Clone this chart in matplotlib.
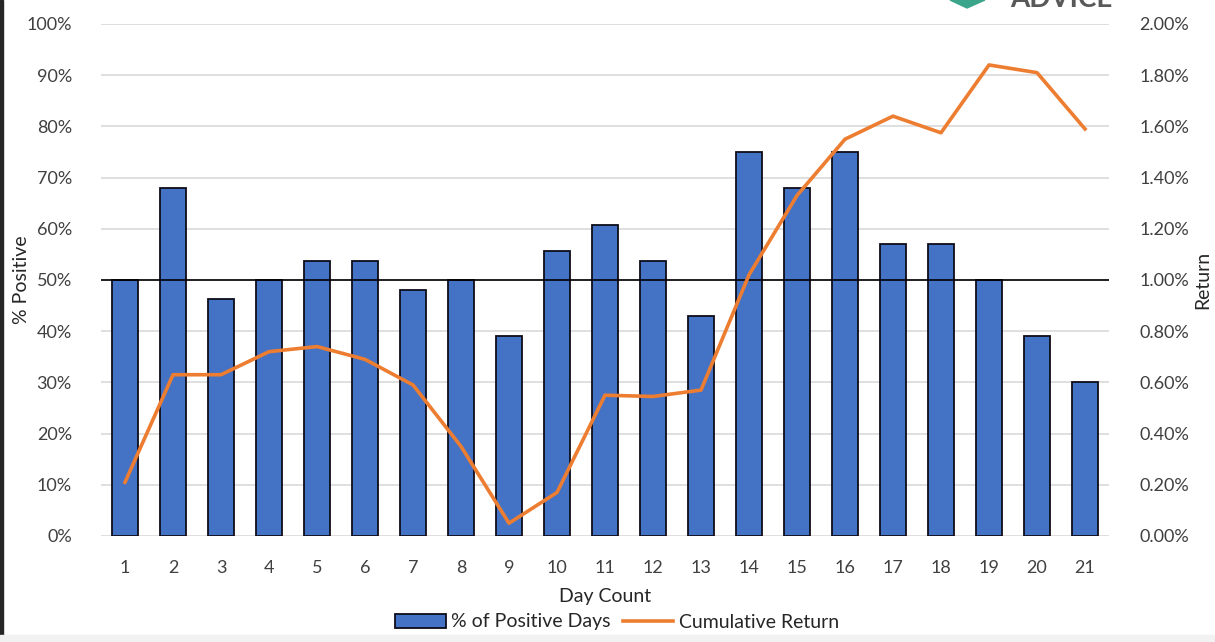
import numpy as np
import matplotlib
matplotlib.use('Agg')
import matplotlib.pyplot as plt
from matplotlib.ticker import FuncFormatter

plt.rcParams['font.family'] = ['Lato', 'DejaVu Sans']

# dados
days = list(range(1, 22))
pct_positive = [50, 68, 46.2, 50, 53.8, 53.8, 48.1, 50, 39.1, 55.6, 60.7,
                53.8, 42.9, 75, 68, 75, 57.1, 57.1, 50, 39.1, 30]
cum_return = [0.21, 0.63, 0.63, 0.72, 0.74, 0.69, 0.59, 0.35, 0.05, 0.17, 0.55,
              0.545, 0.57, 1.02, 1.33, 1.55, 1.64, 1.575, 1.84, 1.81, 1.59]

fig = plt.figure(figsize=(12.15, 6.42), dpi=100)
ax = fig.add_axes([101 / 1215, 1 - 536 / 642, 1008 / 1215, 512 / 642])
ax2 = ax.twinx()

grid_c = '#d9d9d9'
for v in range(0, 101, 10):
    ax.axhline(v, color=grid_c, lw=1.2, zorder=0)

ax.bar(days, pct_positive, width=0.56, color='#4472c4', edgecolor='#0d0d1a',
       linewidth=1.3, zorder=2, label='% of Positive Days')
ax.axhline(50, color='black', lw=1.2, zorder=3)

ax2.plot(days, cum_return, color='#ed7d31', lw=2.6, zorder=4, label='Cumulative Return')

ax.set_xlim(0.5, 21.5)
ax.set_ylim(0, 100)
ax2.set_ylim(0, 2.0)

ax.set_yticks(range(0, 101, 10))
ax.yaxis.set_major_formatter(FuncFormatter(lambda v, p: f'{v:.0f}%'))
ax2.set_yticks(np.arange(0, 2.01, 0.2))
ax2.yaxis.set_major_formatter(FuncFormatter(lambda v, p: f'{v:.2f}%'))
ax.set_xticks(days)

for a in (ax, ax2):
    for s in a.spines.values():
        s.set_visible(False)
    a.tick_params(length=0, labelsize=13, colors='#404040')
ax.tick_params(axis='y', pad=21)
ax2.tick_params(axis='y', pad=22)
ax.tick_params(axis='x', pad=17)

ax.set_xlabel('Day Count', fontsize=14, color='#262626')
ax.set_ylabel('% Positive', fontsize=14, color='#262626')
ax2.set_ylabel('Return', fontsize=14, color='#262626')
ax.xaxis.set_label_coords(0.5, -0.119)
ax.yaxis.set_label_coords(-0.079, 0.5)
ax2.yaxis.set_label_coords(1.093, 0.5)
ax.xaxis.label.set_va('center')
ax.yaxis.label.set_va('center')
ax2.yaxis.label.set_va('center')

h1, l1 = ax.get_legend_handles_labels()
h2, l2 = ax2.get_legend_handles_labels()
fig.legend(h1 + h2, l1 + l2, loc='center', bbox_to_anchor=(617 / 1215, 1 - 622 / 642),
           ncol=2, frameon=False, fontsize=14, handlelength=2.6, handletextpad=0.3,
           columnspacing=0.6, labelcolor='#262626')

# logo cortado no topo
fig.text(1010 / 1215, 1 + 1 / 642, 'ADVICE', fontsize=20, color='#595959',
         fontweight='bold', ha='left', va='center')
fig.patches.append(plt.Polygon([[950 / 1215, 1.0], [985 / 1215, 1.0], [967 / 1215, 1 - 8 / 642]],
                               closed=True, transform=fig.transFigure, color='#3aa58a'))

# borda esquerda e faixa inferior da captura
fig.patches.append(plt.Rectangle((0, 0), 3 / 1215, 1, transform=fig.transFigure,
                                 color='#262626'))
fig.patches.append(plt.Rectangle((0, 0), 1, 7 / 642, transform=fig.transFigure,
                                 color='#f2f2f2'))

plt.savefig('out.png', dpi=100)
